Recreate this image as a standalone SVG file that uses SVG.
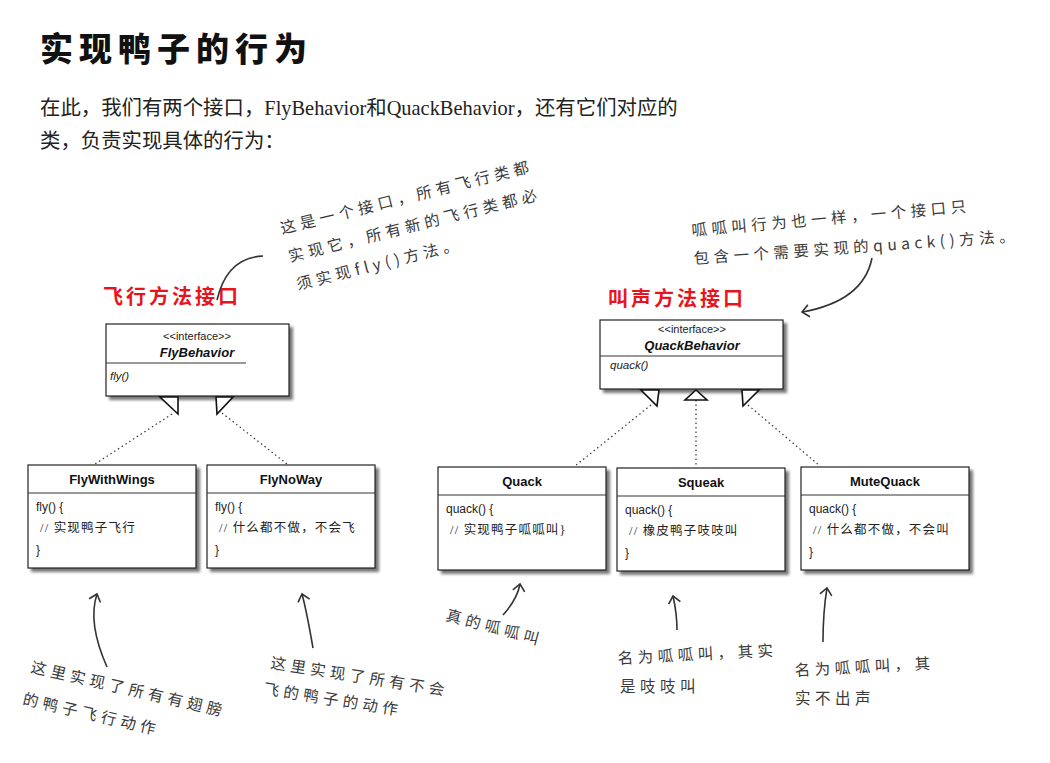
<svg xmlns="http://www.w3.org/2000/svg" width="1050" height="763" viewBox="0 0 1050 763">
<defs>
<filter id="sh" x="-10%" y="-10%" width="130%" height="130%"><feGaussianBlur stdDeviation="1.6"/></filter>
<marker id="open" markerWidth="16" markerHeight="16" refX="8" refY="8" orient="auto" markerUnits="userSpaceOnUse"><path d="M1,2 L8,8 L1,14" fill="none" stroke="#333" stroke-width="1.6"/></marker>
<style>
.box{fill:#fff;stroke:#222;stroke-width:1.2}
.shadow{fill:#777;filter:url(#sh)}
.sep{stroke:#333;stroke-width:1}
.name{font-family:"Liberation Sans",Arial,sans-serif;font-weight:bold;font-size:13px;fill:#111;text-anchor:middle}
.iname{font-family:"Liberation Sans",Arial,sans-serif;font-weight:bold;font-style:italic;font-size:13px;fill:#111;text-anchor:middle}
.stereo{font-family:"Liberation Sans",Arial,sans-serif;font-size:11px;fill:#222;text-anchor:middle}
.code{font-family:"Liberation Sans",Arial,sans-serif;font-size:12px;fill:#222}
.cm{font-family:"Liberation Serif","Noto Sans CJK SC",serif;font-size:12.5px;fill:#222;letter-spacing:1.2px}
.meth{font-family:"Liberation Sans",Arial,sans-serif;font-style:italic;font-size:11.5px;fill:#222}
.hand{font-family:"Noto Sans CJK SC",sans-serif;font-size:15.5px;fill:#3a3a3a;letter-spacing:4.5px}
.red{font-family:"Liberation Serif","Noto Sans CJK SC",serif;font-weight:bold;font-size:20px;fill:#e8141c;letter-spacing:3px}
.dot{stroke:#333;stroke-width:1.2;stroke-dasharray:1.5 3;fill:none}
.tri{fill:#fff;stroke:#111;stroke-width:1.6}
.pen{stroke:#333;stroke-width:1.6;fill:none}
</style>
</defs>
<rect width="1050" height="763" fill="#fff"/>

<g id="title">
<text x="40" y="61" font-family="Noto Sans CJK SC,sans-serif" font-weight="900" font-size="33" letter-spacing="6" fill="#111">实现鸭子的行为</text>
</g>
<g id="intro" font-family="Liberation Serif,Noto Sans CJK SC,serif" font-size="20.4" fill="#222">
<text x="40" y="115">在此，我们有两个接口，FlyBehavior和QuackBehavior，还有它们对应的</text>
<text x="40" y="148">类，负责实现具体的行为：</text>
</g>

<g id="label-fly"><text class="red" x="103" y="304">飞行方法接口</text></g>
<g id="label-quack"><text class="red" x="608" y="306">叫声方法接口</text></g>

<g id="note-fly" class="hand">
<text transform="translate(282,234) rotate(-14)">这是一个接口，所有飞行类都</text>
<text transform="translate(290,262) rotate(-14)">实现它，所有新的飞行类都必</text>
<text transform="translate(298,290) rotate(-14)">须实现fly()方法。</text>
</g>
<g id="note-quack" class="hand">
<text transform="translate(692,236) rotate(-5)">呱呱叫行为也一样，一个接口只</text>
<text transform="translate(694,264) rotate(-4)">包含一个需要实现的quack()方法。</text>
</g>

<g id="FlyBehavior">
<rect class="shadow" x="109" y="327" width="184" height="73"/>
<rect class="box" x="106" y="324" width="183" height="72"/>
<text class="stereo" x="197" y="340">&lt;&lt;interface&gt;&gt;</text>
<text class="iname" x="197" y="357">FlyBehavior</text>
<line class="sep" x1="106" y1="363" x2="246" y2="363"/>
<text class="meth" x="110" y="380">fly()</text>
</g>

<g id="QuackBehavior">
<rect class="shadow" x="603" y="323" width="184" height="70"/>
<rect class="box" x="600" y="320" width="183" height="69"/>
<text class="stereo" x="692" y="333">&lt;&lt;interface&gt;&gt;</text>
<text class="iname" x="692" y="350">QuackBehavior</text>
<line class="sep" x1="600" y1="356" x2="783" y2="356"/>
<text class="meth" x="610" y="369">quack()</text>
</g>

<g id="FlyWithWings">
<rect class="shadow" x="31" y="468" width="169" height="104"/>
<rect class="box" x="28" y="465" width="168" height="103"/>
<text class="name" x="112" y="484">FlyWithWings</text>
<line class="sep" x1="28" y1="493" x2="196" y2="493"/>
<text class="code" x="36" y="511">fly() {</text>
<text class="cm" x="40" y="532">// 实现鸭子飞行</text>
<text class="code" x="36" y="554">}</text>
</g>

<g id="FlyNoWay">
<rect class="shadow" x="210" y="468" width="169" height="104"/>
<rect class="box" x="207" y="465" width="168" height="103"/>
<text class="name" x="291" y="484">FlyNoWay</text>
<line class="sep" x1="207" y1="493" x2="375" y2="493"/>
<text class="code" x="215" y="511">fly() {</text>
<text class="cm" x="219" y="532">// 什么都不做，不会飞</text>
<text class="code" x="215" y="554">}</text>
</g>

<g id="Quack">
<rect class="shadow" x="441" y="470" width="169" height="104"/>
<rect class="box" x="438" y="467" width="168" height="103"/>
<text class="name" x="522" y="486">Quack</text>
<line class="sep" x1="438" y1="495" x2="606" y2="495"/>
<text class="code" x="446" y="513">quack() {</text>
<text class="cm" x="450" y="534">// 实现鸭子呱呱叫}</text>
</g>

<g id="Squeak">
<rect class="shadow" x="620" y="471" width="169" height="104"/>
<rect class="box" x="617" y="468" width="168" height="103"/>
<text class="name" x="701" y="487">Squeak</text>
<line class="sep" x1="617" y1="496" x2="785" y2="496"/>
<text class="code" x="625" y="514">quack() {</text>
<text class="cm" x="629" y="535">// 橡皮鸭子吱吱叫</text>
<text class="code" x="625" y="557">}</text>
</g>

<g id="MuteQuack">
<rect class="shadow" x="804" y="470" width="169" height="104"/>
<rect class="box" x="801" y="467" width="168" height="103"/>
<text class="name" x="885" y="486">MuteQuack</text>
<line class="sep" x1="801" y1="495" x2="969" y2="495"/>
<text class="code" x="809" y="513">quack() {</text>
<text class="cm" x="813" y="534">// 什么都不做，不会叫</text>
<text class="code" x="809" y="556">}</text>
</g>

<g id="connectors">
<path class="dot" d="M172,414 L95,464"/>
<path class="dot" d="M222,413 L287,464"/>
<path class="dot" d="M651,405 L575,466"/>
<path class="dot" d="M696,400 L696,467"/>
<path class="dot" d="M748,405 L820,466"/>
<polygon class="tri" points="160,397 178,397 178,414"/>
<polygon class="tri" points="216,397 233,397 217,414"/>
<polygon class="tri" points="641,390 659,390 657,406"/>
<polygon class="tri" points="696,390 707,400 685,400"/>
<polygon class="tri" points="742,390 759,390 743,406"/>
<path class="pen" d="M263,256 C240,257 224,270 217,300"/>
<path class="pen" d="M872,258 C866,288 842,305 802,312" marker-end="url(#open)"/>
<path class="pen" d="M107,667 C95,640 90,615 97,594" marker-end="url(#open)"/>
<path class="pen" d="M313,648 C309,625 305,605 302,594" marker-end="url(#open)"/>
<path class="pen" d="M503,615 C512,605 518,595 520,584" marker-end="url(#open)"/>
<path class="pen" d="M677,630 C677,618 675,605 673,596" marker-end="url(#open)"/>
<path class="pen" d="M823,642 C823,620 825,600 827,588" marker-end="url(#open)"/>
</g>

<g id="note-wings" class="hand">
<text transform="translate(30,672) rotate(13)">这里实现了所有有翅膀</text>
<text transform="translate(22,704) rotate(13)">的鸭子飞行动作</text>
</g>
<g id="note-noway" class="hand">
<text transform="translate(270,668) rotate(9)">这里实现了所有不会</text>
<text transform="translate(263,694) rotate(9)">飞的鸭子的动作</text>
</g>
<g id="note-quack-real" class="hand">
<text transform="translate(445,620) rotate(15)">真的呱呱叫</text>
</g>
<g id="note-squeak" class="hand">
<text transform="translate(618,664) rotate(-3)">名为呱呱叫，其实</text>
<text transform="translate(620,692)">是吱吱叫</text>
</g>
<g id="note-mute" class="hand">
<text transform="translate(795,676) rotate(-3)">名为呱呱叫，其</text>
<text transform="translate(795,704)">实不出声</text>
</g>
</svg>
